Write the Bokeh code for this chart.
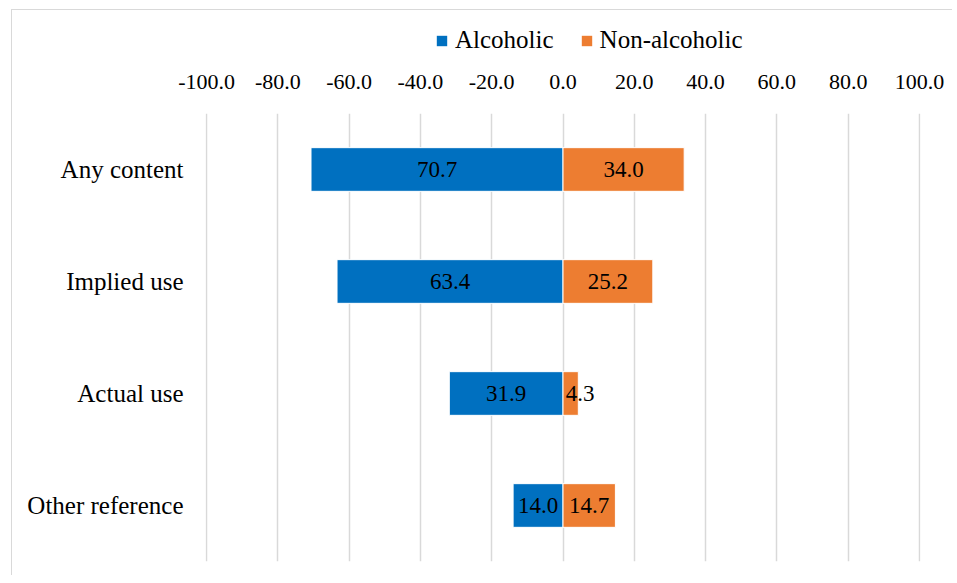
from bokeh.plotting import figure
from bokeh.models import (ColumnDataSource, FactorRange, FixedTicker, NumeralTickFormatter,
                          Legend, LegendItem, LabelSet, CDSView, IndexFilter, Range1d)
from bokeh.layouts import column
from bokeh.core.properties import value
from bokeh.embed import file_html
from bokeh.resources import INLINE
import numpy as np

categories = ["Any content", "Implied use", "Actual use", "Other reference"]
alcoholic = [70.7, 63.4, 31.9, 14.0]
non_alcoholic = [34.0, 25.2, 4.3, 14.7]
x_ticks = [-100, -80, -60, -40, -20, 0, 20, 40, 60, 80, 100]
series_names = ["Alcoholic", "Non-alcoholic"]

BLUE = "#0070C0"
ORANGE = "#ED7D31"
FONT = "Liberation Serif"

alc = np.array(alcoholic)
non = np.array(non_alcoholic)

src = ColumnDataSource(dict(
    cat=categories,
    alc_left=-alc,
    alc_mid=-alc / 2,
    alc_txt=[f"{v:.1f}" for v in alc],
    non_right=non,
    non_mid=np.maximum(non / 2, 4.8),
    non_txt=[f"{v:.1f}" for v in non],
    zero=np.zeros(len(categories)),
))

# ---- main chart ----
p = figure(width=940, height=513, output_backend="svg", toolbar_location=None,
           y_range=FactorRange(factors=list(reversed(categories)), range_padding=0),
           x_range=(-100.3, 100.3), x_axis_location="above",
           min_border_left=193, min_border_right=32, min_border_top=51, min_border_bottom=14)
p.outline_line_color = None

bar_style = dict(height=0.39, source=src, line_color="white", line_width=1)
r1 = p.hbar(y="cat", left="alc_left", right="zero", fill_color=BLUE, **bar_style)
r2 = p.hbar(y="cat", left="zero", right="non_right", fill_color=ORANGE, **bar_style)

for xcol, tcol in (("alc_mid", "alc_txt"), ("non_mid", "non_txt")):
    p.add_layout(LabelSet(x=xcol, y="cat", text=tcol, source=src, text_align="center",
                          text_baseline="middle", text_font=value(FONT),
                          text_font_size="23px", text_color="black"))

p.xaxis.ticker = FixedTicker(ticks=x_ticks)
p.xaxis.formatter = NumeralTickFormatter(format="0.0")
p.xaxis.axis_line_color = None
p.xaxis.major_tick_line_color = None
p.xaxis.minor_tick_line_color = None
p.xaxis.major_label_text_font = FONT
p.xaxis.major_label_text_font_size = "22px"
p.xaxis.major_label_text_color = "black"
p.xaxis.major_label_standoff = 19

p.yaxis.axis_line_color = None
p.yaxis.major_tick_line_color = None
p.yaxis.minor_tick_line_color = None
p.yaxis.major_label_text_font = FONT
p.yaxis.major_label_text_font_size = "25px"
p.yaxis.major_label_text_color = "black"
p.yaxis.major_label_standoff = 16

p.ygrid.grid_line_color = None
p.xgrid.ticker = FixedTicker(ticks=x_ticks)
p.xgrid.grid_line_color = "#d9d9d9"
p.xgrid.grid_line_width = 1.5

# ---- legend strip (same series; the keys' bars fall outside this strip's range) ----
top = figure(width=940, height=52, output_backend="svg", toolbar_location=None,
             x_range=Range1d(-100.3, 100.3), y_range=Range1d(10, 11),
             x_axis_location=None, y_axis_location=None,
             min_border_left=0, min_border_right=0, min_border_top=0, min_border_bottom=0)
top.outline_line_color = None
top.grid.visible = False
key_style = dict(height=0.39, source=src, line_color=None)
k1 = top.hbar(y="zero", left="alc_left", right="zero", fill_color=BLUE,
              view=CDSView(filter=IndexFilter(indices=[0])), **key_style)
k2 = top.hbar(y="zero", left="zero", right="non_right", fill_color=ORANGE,
              view=CDSView(filter=IndexFilter(indices=[0])), **key_style)

legend = Legend(items=[LegendItem(label=series_names[0], renderers=[k1]),
                       LegendItem(label=series_names[1], renderers=[k2])],
                orientation="horizontal", location=(230, 8),
                glyph_width=13, glyph_height=13, label_standoff=7, spacing=26,
                padding=0, margin=0, border_line_color=None, background_fill_alpha=0,
                label_text_font=FONT, label_text_font_size="25px", label_text_color="black")
top.add_layout(legend, "center")

layout = column(top, p, margin=(9, 0, 0, 11),
                styles={"border-top": "1px solid #d9d9d9", "border-left": "1px solid #d9d9d9"})

open("out.html", "w").write(file_html(layout, INLINE))
